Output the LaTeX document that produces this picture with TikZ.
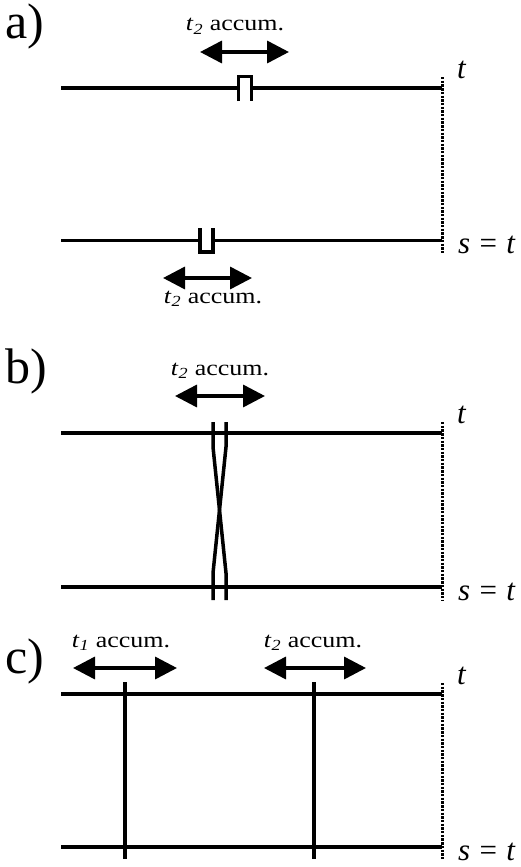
\documentclass[tikz,border=0pt]{standalone}
\usepackage{fontspec}
\setmainfont{Liberation Serif}
\usetikzlibrary{arrows.meta}
\newcommand{\acclab}[1]{\textit{t}\textsubscript{\textit{#1}} accum.}
\begin{document}
\begin{tikzpicture}[x=1pt,y=-1pt,
  rail/.style={line width=3.5pt},
  bound/.style={line width=3pt, dash pattern=on 2.4pt off 1.3pt},
  dbl/.style={line width=3.5pt, {Triangle[length=22pt,width=22pt]}-{Triangle[length=22pt,width=22pt]}},
  acc/.style={anchor=base, inner sep=0pt, font=\fontsize{22}{26}\selectfont, xscale=1.18},
  panel/.style={anchor=base west, inner sep=0pt, font=\fontsize{50}{58}\selectfont},
  tl/.style={anchor=base west, inner sep=0pt, font=\fontsize{31}{36}\selectfont}]
\useasboundingbox (0,0) rectangle (520,867);

% ---------- panel a ----------
\node[panel] (la) at (5,38) {a)};
\draw[rail] (61,88) -- (238,88);
\draw[rail] (252,88) -- (442,88);
\draw[rail] (238.5,101) -- (238.5,76.5) -- (251.5,76.5) -- (251.5,101);
\draw[rail] (61,240.5) -- (200,240.5);
\draw[rail] (213,240.5) -- (442,240.5);
\draw[rail] (200,228) -- (200,252) -- (213,252) -- (213,228);
\draw[bound] (442,77) -- (442,254);
\coordinate (a1l) at (200,52); \coordinate (a1r) at (289,52);
\draw[dbl] (a1l) -- (a1r);
\node[acc] (ta1) at (235,31) {\acclab{2}};
\coordinate (a2l) at (163,278); \coordinate (a2r) at (252,278);
\draw[dbl] (a2l) -- (a2r);
\node[acc] (ta2) at (213,303) {\acclab{2}};
\node[tl] (ta) at (457,78) {\textit{t}};
\node[tl] (sa) at (458,253) {\textit{s}\hspace{0.3em}=\hspace{0.3em}\textit{t}};

% ---------- panel b ----------
\node[panel] (lb) at (5,383) {b)};
\draw[rail] (61,433) -- (442,433);
\draw[rail] (61,587) -- (442,587);
\draw[rail] (213,422) -- (213,447) -- (226,573) -- (226,600);
\draw[rail] (226,422) -- (226,447) -- (213,573) -- (213,600);
\draw[bound] (442,422) -- (442,600);
\coordinate (b1l) at (175,396); \coordinate (b1r) at (265,396);
\draw[dbl] (b1l) -- (b1r);
\node[acc] (tb1) at (220,375) {\acclab{2}};
\node[tl] (tb) at (457,423) {\textit{t}};
\node[tl] (sb) at (458,600) {\textit{s}\hspace{0.3em}=\hspace{0.3em}\textit{t}};

% ---------- panel c ----------
\node[panel] (lc) at (5,673) {c)};
\draw[rail] (61,694) -- (442,694);
\draw[rail] (61,847) -- (442,847);
\draw[rail] (125,682) -- (125,859);
\draw[rail] (314,682) -- (314,859);
\draw[bound] (442,683) -- (442,860);
\coordinate (c1l) at (73,668); \coordinate (c1r) at (177,668);
\draw[dbl] (c1l) -- (c1r);
\node[acc] (tc1) at (121,647) {\acclab{1}};
\coordinate (c2l) at (264,668); \coordinate (c2r) at (366,668);
\draw[dbl] (c2l) -- (c2r);
\node[acc] (tc2) at (313,647) {\acclab{2}};
\node[tl] (tc) at (457,684) {\textit{t}};
\node[tl] (sc) at (458,860) {\textit{s}\hspace{0.3em}=\hspace{0.3em}\textit{t}};
\end{tikzpicture}
\end{document}
